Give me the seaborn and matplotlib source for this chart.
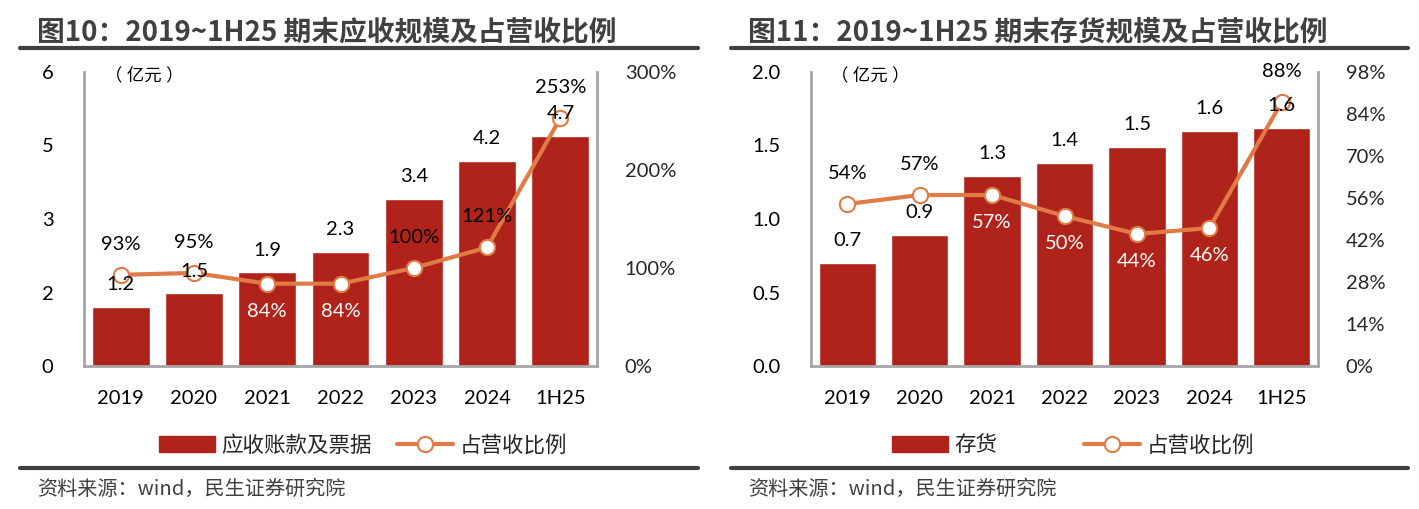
import numpy as np
import matplotlib
matplotlib.use("Agg")
import matplotlib.pyplot as plt
from matplotlib.lines import Line2D
from matplotlib.patches import Patch
import seaborn as sns

# data
periods = ["2019", "2020", "2021", "2022", "2023", "2024", "1H25"]

recv_values = [1.20, 1.48, 1.91, 2.32, 3.41, 4.19, 4.70]
recv_ratio = [0.93, 0.95, 0.84, 0.84, 1.00, 1.21, 2.53]
recv_ratio_above = [True, True, False, False, True, True, True]
recv_yticks = [0, 1.5, 3, 4.5, 6]
recv_yticklabels = ["0", "2", "3", "5", "6"]
recv_rticks = [0, 1, 2, 3]
recv_rticklabels = ["0%", "100%", "200%", "300%"]

inv_values = [0.70, 0.89, 1.29, 1.38, 1.49, 1.60, 1.62]
inv_ratio = [0.54, 0.57, 0.57, 0.50, 0.44, 0.46, 0.88]
inv_ratio_above = [True, True, False, False, False, False, True]
inv_yticks = [0, 0.5, 1.0, 1.5, 2.0]
inv_yticklabels = ["0.0", "0.5", "1.0", "1.5", "2.0"]
inv_rticks = [0, 0.14, 0.28, 0.42, 0.56, 0.70, 0.84, 0.98]
inv_rticklabels = ["0%", "14%", "28%", "42%", "56%", "70%", "84%", "98%"]

title_left = "图10：2019~1H25 期末应收规模及占营收比例"
title_right = "图11：2019~1H25 期末存货规模及占营收比例"
bar_name_left = "应收账款及票据"
bar_name_right = "存货"
line_name = "占营收比例"
unit_label = "（ 亿元 ）"
source = "资料来源：wind，民生证券研究院"

BAR = "#B0231A"
LINE = "#E07B45"
SPINE = "#A6A6A6"
DARK = "#404040"

sns.set_style("white")
plt.rcParams['font.family'] = ['Lato', 'Noto Sans CJK SC', 'DejaVu Sans']

W, H = 1419, 509
fig = plt.figure(figsize=(W / 100, H / 100), dpi=100)


def draw_panel(rect, values, ratio, above, yticks, ylabels, rticks, rlabels,
               bar_name, legend_x, colspace, title, px0, px1, tx):
    ax = fig.add_axes(rect)
    sns.barplot(x=periods, y=values, color=BAR, width=0.79, ax=ax,
                saturation=1, zorder=2)
    ax.set_xlim(-0.5, len(periods) - 0.5)
    ax.set_ylim(yticks[0], yticks[-1])
    ax.set_yticks(yticks)
    ax.set_yticklabels(ylabels)
    ax.set_xlabel("")
    ax.set_ylabel("")
    for s in ["left", "bottom", "right"]:
        ax.spines[s].set_color(SPINE)
        ax.spines[s].set_linewidth(2)
    ax.spines["top"].set_visible(False)
    ax.tick_params(axis="both", length=0, labelsize=14.5, colors="black")
    ax.tick_params(axis="y", pad=22)
    ax.tick_params(axis="x", pad=17)
    ax.text(0.04, 0.985, unit_label, transform=ax.transAxes, fontsize=12.5,
            ha="left", va="center", color="black")

    ax2 = ax.twinx()
    x = np.arange(len(periods))
    sns.lineplot(x=x, y=ratio, ax=ax2, color=LINE, linewidth=3,
                 marker="o", markersize=11, markerfacecolor="white",
                 markeredgecolor=LINE, markeredgewidth=1.5, zorder=3)
    ax2.set_ylim(rticks[0], rticks[-1])
    ax2.set_yticks(rticks)
    ax2.set_yticklabels(rlabels)
    ax2.set_xlim(-0.5, len(periods) - 0.5)
    ax2.set_ylabel("")
    for s in ax2.spines.values():
        s.set_visible(False)
    ax2.tick_params(axis="y", length=0, labelsize=14.5, pad=20)

    # bar value labels on the top axes so they sit over the line
    for i, v in enumerate(values):
        ax2.annotate(f"{v:.1f}", (i, v), xycoords=ax.transData,
                     xytext=(0, 10), textcoords="offset points",
                     ha="center", va="bottom", fontsize=14.5, color="black",
                     zorder=5)
    for i, (r, up) in enumerate(zip(ratio, above)):
        txt = f"{r * 100:.0f}%"
        if up:
            ax2.annotate(txt, (i, r), xytext=(0, 22), textcoords="offset points",
                         ha="center", va="center", fontsize=14.5, color="black")
        else:
            ax2.annotate(txt, (i, r), xytext=(0, -20), textcoords="offset points",
                         ha="center", va="center", fontsize=14.5, color="white")

    handles = [Patch(facecolor=BAR, edgecolor=BAR),
               Line2D([0], [0], color=LINE, linewidth=3, marker="o",
                      markersize=11, markerfacecolor="white",
                      markeredgecolor=LINE, markeredgewidth=1.5)]
    fig.legend(handles, [bar_name, line_name], loc="center",
               bbox_to_anchor=(legend_x / W, 1 - 445 / H), ncol=2,
               frameon=False, fontsize=15.5, handlelength=2.6,
               handleheight=0.8, handletextpad=0.3, columnspacing=colspace)

    fig.text(tx / W, 1 - 32 / H, title, fontsize=20, fontweight="bold",
             color=DARK, ha="left", va="center", family="Noto Sans CJK SC")
    fig.add_artist(Line2D([px0 / W, px1 / W], [1 - 48 / H, 1 - 48 / H],
                          color=DARK, linewidth=3, transform=fig.transFigure))
    fig.add_artist(Line2D([px0 / W, px1 / W], [1 - 468 / H, 1 - 468 / H],
                          color=DARK, linewidth=3, transform=fig.transFigure))
    fig.text(tx / W, 1 - 489 / H, source, fontsize=14.5, color=DARK,
             ha="left", va="center", family="Noto Sans CJK SC")


bottom = 1 - 366 / H
top = 1 - 72 / H
draw_panel([84 / W, bottom, (597 - 84) / W, top - bottom],
           recv_values, recv_ratio, recv_ratio_above,
           recv_yticks, recv_yticklabels, recv_rticks, recv_rticklabels,
           bar_name_left, 363, 1.2, title_left, 20, 698, 37)
draw_panel([811 / W, bottom, (1318 - 811) / W, top - bottom],
           inv_values, inv_ratio, inv_ratio_above,
           inv_yticks, inv_yticklabels, inv_rticks, inv_rticklabels,
           bar_name_right, 1073, 4.0, title_right, 731, 1408, 748)

fig.savefig("out.png", dpi=100)
